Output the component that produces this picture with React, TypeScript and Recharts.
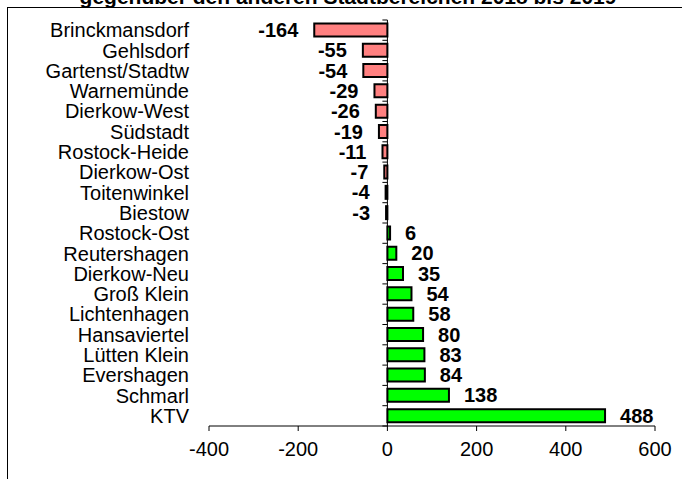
import React from 'react';
import { BarChart, Bar, XAxis, YAxis, ReferenceLine, Cell, LabelList } from 'recharts';

const districts = [
  'Brinckmansdorf', 'Gehlsdorf', 'Gartenst/Stadtw', 'Warnemünde', 'Dierkow-West',
  'Südstadt', 'Rostock-Heide', 'Dierkow-Ost', 'Toitenwinkel', 'Biestow',
  'Rostock-Ost', 'Reutershagen', 'Dierkow-Neu', 'Groß Klein', 'Lichtenhagen',
  'Hansaviertel', 'Lütten Klein', 'Evershagen', 'Schmarl', 'KTV',
];
const saldo = [-164, -55, -54, -29, -26, -19, -11, -7, -4, -3, 6, 20, 35, 54, 58, 80, 83, 84, 138, 488];
const xTicks = [-400, -200, 0, 200, 400, 600];
const xDomain: [number, number] = [-400, 600];
const title = 'gegenüber den anderen Stadtbereichen 2018 bis 2019';

const W = 682;
const H = 479;
const margin = { top: 20, right: 27, bottom: 13, left: 0 };
const yAxisWidth = 209;
const xAxisHeight = 40;
const font = '"Liberation Sans", Arial, sans-serif';

const plotLeft = margin.left + yAxisWidth;
const plotRight = W - margin.right;
const plotTop = margin.top;
const plotBottom = H - margin.bottom - xAxisHeight;
const zeroX = plotLeft + ((0 - xDomain[0]) / (xDomain[1] - xDomain[0])) * (plotRight - plotLeft);
const band = (plotBottom - plotTop) / districts.length;

const data = districts.map((name, i) => ({ name, value: saldo[i] }));

const CategoryTick = (props: any) => {
  const { x, y, payload, index } = props;
  return (
    <g>
      <text x={x} y={y} dy="0.355em" textAnchor="end" fontSize={20} fontFamily={font} fill="#000">
        {payload.value}
      </text>
      <line x1={zeroX - 5} x2={zeroX} y1={y - band / 2} y2={y - band / 2} stroke="#000" strokeWidth={1} />
      {index === districts.length - 1 && (
        <line x1={zeroX - 5} x2={zeroX} y1={y + band / 2} y2={y + band / 2} stroke="#000" strokeWidth={1} />
      )}
    </g>
  );
};

const ValueLabel = (props: any) => {
  const { x, y, width, height, value } = props;
  const left = Math.min(x, x + width);
  const right = Math.max(x, x + width);
  const neg = value < 0;
  return (
    <text
      x={neg ? left - 16 : right + 15}
      y={y + height / 2}
      dy="0.355em"
      textAnchor={neg ? 'end' : 'start'}
      fontSize={20}
      fontWeight="bold"
      fontFamily={font}
      fill="#000"
    >
      {value}
    </text>
  );
};

export default function App() {
  return (
    <div style={{ position: 'absolute', left: 0, top: 0, width: W, height: H, overflow: 'hidden', background: '#fff' }}>
      <div
        style={{
          position: 'absolute', left: 7, top: 7, width: W + 20, height: H + 20,
          borderLeft: '1px solid #000', borderTop: '1px solid #000',
        }}
      />
      <svg style={{ position: 'absolute', left: 0, top: 0 }} width={W} height={20}>
        <text x={348} y={4} textAnchor="middle" fontSize={21} fontWeight="bold" fontFamily={font} fill="#000">
          {title}
        </text>
      </svg>
      <div style={{ position: 'absolute', left: 0, top: 0 }}>
        <BarChart width={W} height={H} data={data} layout="vertical" margin={margin} barCategoryGap="17%">
          <XAxis
            type="number"
            domain={xDomain}
            ticks={xTicks}
            height={xAxisHeight}
            tickSize={5}
            tickMargin={11}
            stroke="#000"
            tick={{ fill: '#000', fontSize: 20, fontFamily: font }}
            allowDataOverflow
          />
          <YAxis
            type="category"
            dataKey="name"
            width={yAxisWidth}
            axisLine={false}
            tickLine={false}
            tickSize={0}
            tickMargin={20}
            interval={0}
            tick={<CategoryTick />}
          />
          <ReferenceLine x={0} stroke="#000" strokeWidth={1} />
          <Bar dataKey="value" stroke="#000" strokeWidth={2} isAnimationActive={false}>
            {data.map((d) => (
              <Cell key={d.name} fill={d.value < 0 ? '#FF8080' : '#00FF00'} />
            ))}
            <LabelList dataKey="value" content={<ValueLabel />} />
          </Bar>
        </BarChart>
      </div>
    </div>
  );
}
